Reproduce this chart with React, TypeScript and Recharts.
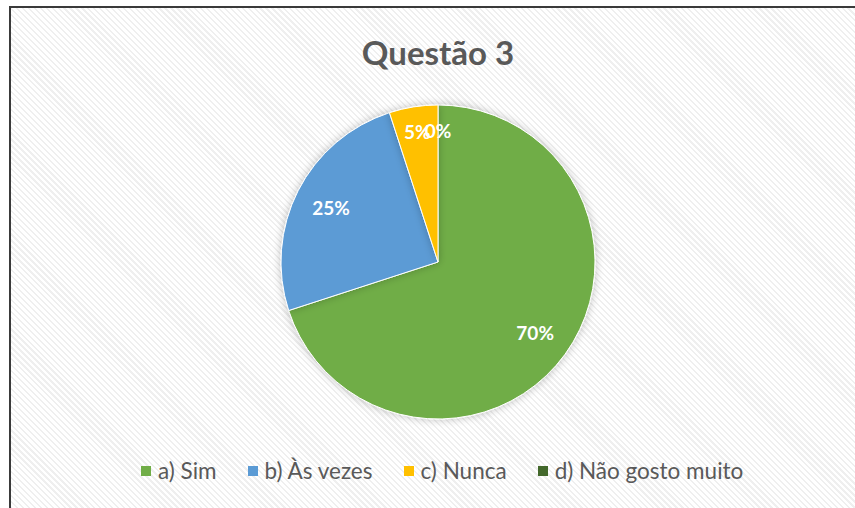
import React from 'react';
import { PieChart, Pie, Cell } from 'recharts';

const categories = ['a) Sim', 'b) Às vezes', 'c) Nunca', 'd) Não gosto muito'];
const values = [70, 25, 5, 0];
const colors = ['#70AD47', '#5B9BD5', '#FFC000', '#43682B'];
const title = 'Questão 3';

const data = categories.map((name, i) => ({ name, value: values[i] }));
const RADIAN = Math.PI / 180;
const FONT = 'Lato, "Open Sans", sans-serif';

const renderLabel = (props: any) => {
  const { cx, cy, midAngle, outerRadius, percent } = props;
  const f = percent < 0.1 ? 0.84 : 0.765;
  const r = outerRadius * f;
  const x = cx + r * Math.cos(-midAngle * RADIAN);
  const y = cy + r * Math.sin(-midAngle * RADIAN);
  return (
    <text x={x} y={y} fill="#ffffff" fontSize={19} fontWeight={700} fontFamily={FONT}
      textAnchor="middle" dominantBaseline="central">
      {`${Math.round(percent * 100)}%`}
    </text>
  );
};

export default function App() {
  return (
    <div style={{ position: 'absolute', left: 0, top: 0, width: 855, height: 508, overflow: 'hidden', background: '#fff' }}>
      <div style={{
        position: 'absolute', left: 9, top: 6, width: 860, height: 520,
        border: '2px solid #3a3a3a', boxSizing: 'border-box',
        background: 'repeating-linear-gradient(45deg, #ffffff 0px, #ffffff 2.6px, #efefef 2.6px, #efefef 4.2px)',
      }} />
      <div style={{ position: 'absolute', left: 0, top: 0, width: 855, height: 508 }}>
        <div style={{ position: 'absolute', left: 0, top: 30, width: 876, textAlign: 'center', fontFamily: FONT, fontWeight: 700, fontSize: 33, color: '#595959', lineHeight: '44px' }}>
          {title}
        </div>
        <PieChart width={855} height={508} style={{ position: 'absolute', left: 0, top: 0 }}>
          <defs>
            <filter id="pieShadow" x="-20%" y="-20%" width="140%" height="140%">
              <feGaussianBlur in="SourceAlpha" stdDeviation="4" />
              <feComponentTransfer><feFuncA type="linear" slope="0.25" /></feComponentTransfer>
              <feMerge><feMergeNode /><feMergeNode in="SourceGraphic" /></feMerge>
            </filter>
          </defs>
          <Pie data={data} dataKey="value" nameKey="name" cx={433} cy={257} outerRadius={157}
            startAngle={90} endAngle={-270} stroke="#ffffff" strokeWidth={1}
            label={renderLabel} labelLine={false} isAnimationActive={false} style={{ filter: 'url(#pieShadow)' }}>
            {data.map((d, i) => <Cell key={d.name} fill={colors[i]} />)}
          </Pie>
        </PieChart>
        <div style={{ position: 'absolute', left: 141, top: 456, display: 'flex', fontFamily: FONT, fontSize: 22.5, color: '#595959', lineHeight: '30px' }}>
          {categories.map((c, i) => (
            <div key={c} style={{ display: 'flex', alignItems: 'center', marginRight: i < categories.length - 1 ? 31 : 0 }}>
              <span style={{ width: 10, height: 10, background: colors[i], display: 'inline-block', marginRight: 7 }} />
              <span>{c}</span>
            </div>
          ))}
        </div>
      </div>
    </div>
  );
}
